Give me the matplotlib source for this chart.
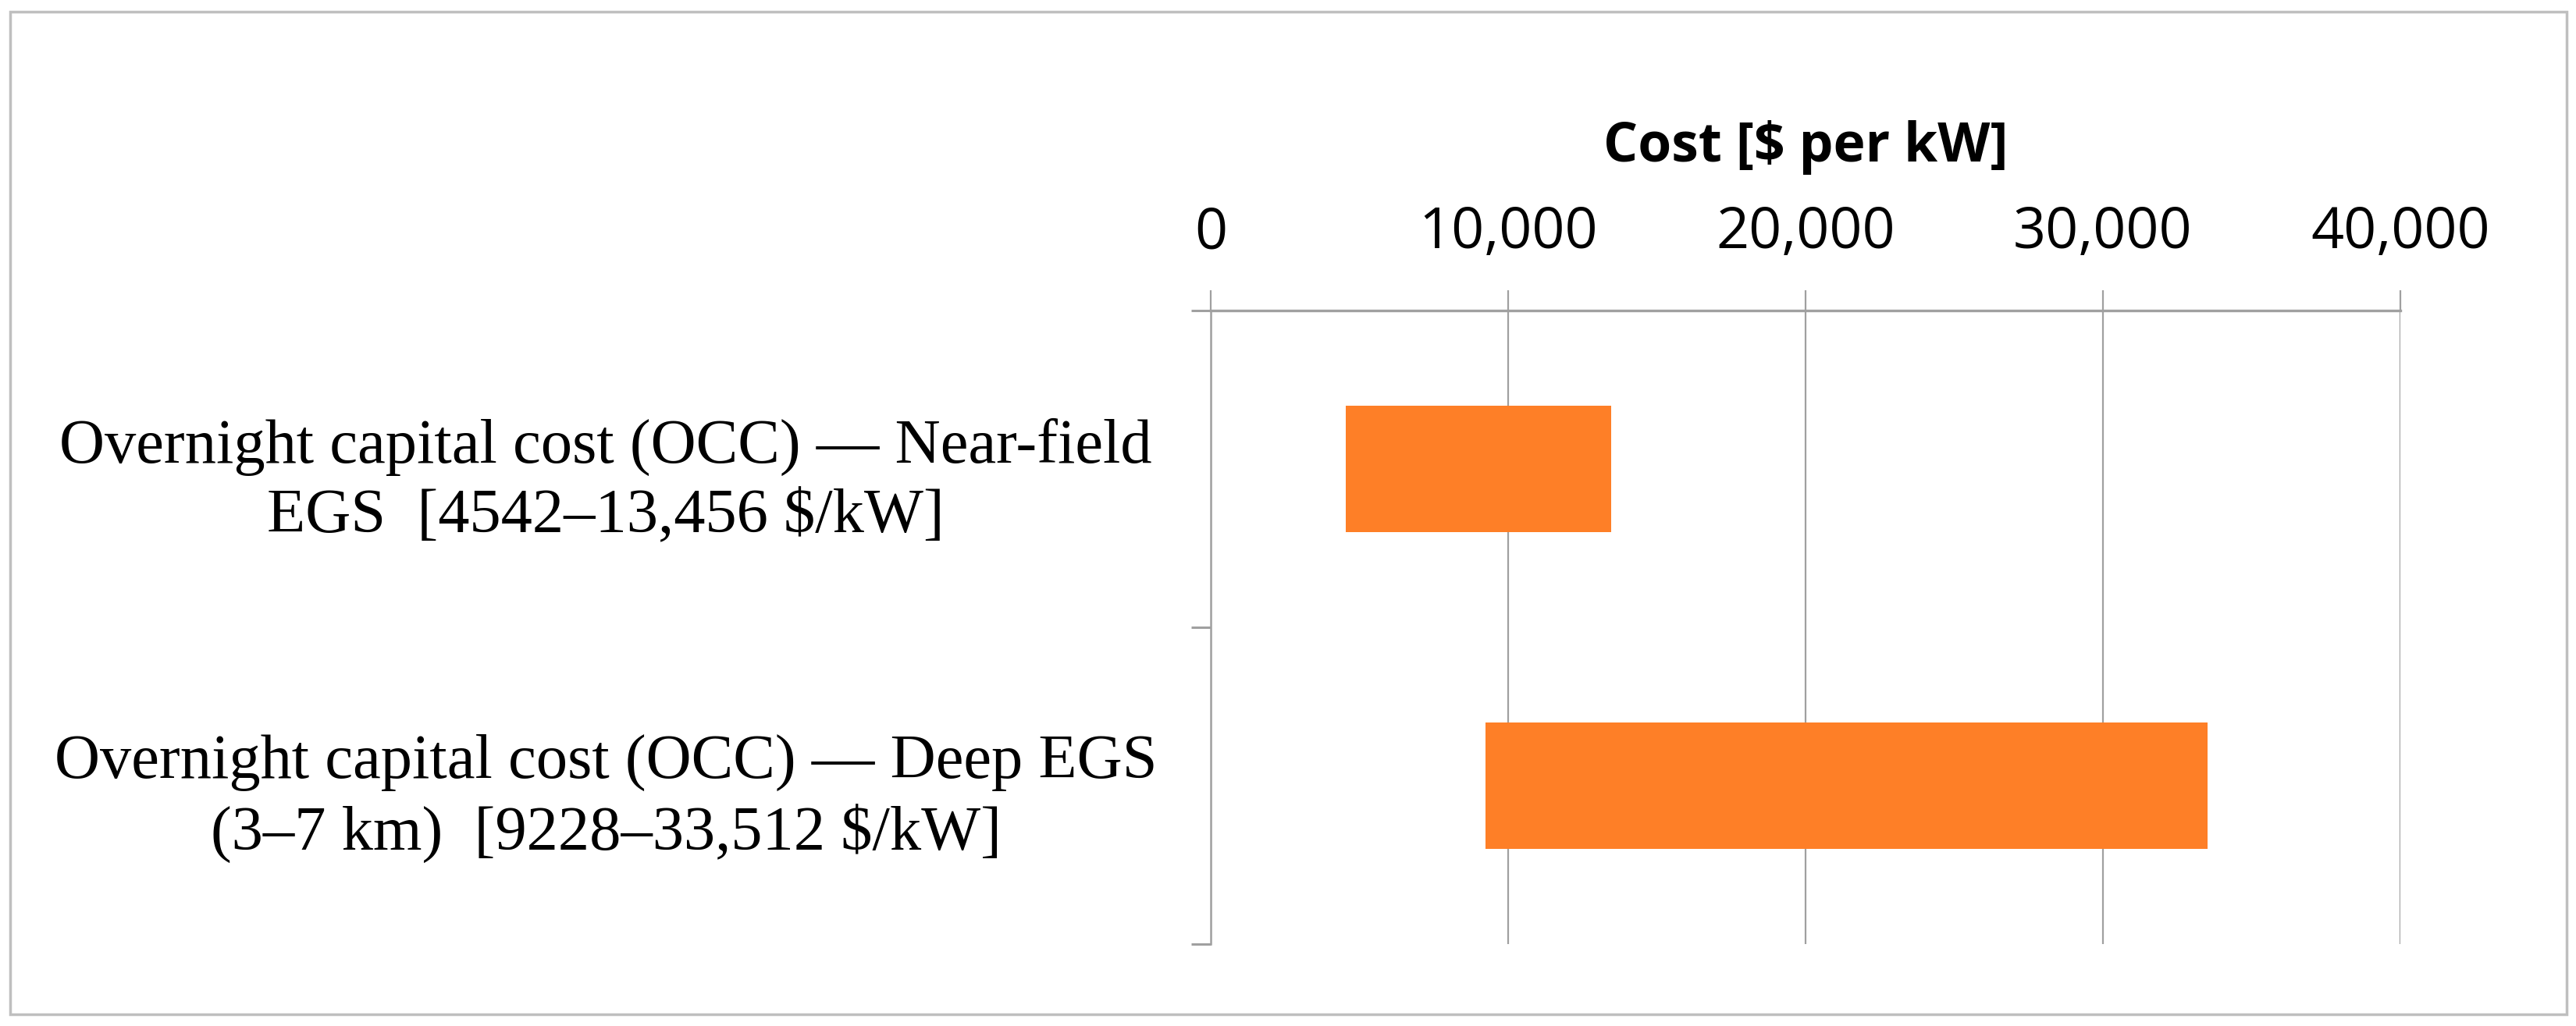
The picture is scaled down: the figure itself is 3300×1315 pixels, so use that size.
import matplotlib
matplotlib.use("Agg")
import matplotlib.pyplot as plt
from matplotlib.patches import Rectangle

categories = [
    "Overnight capital cost (OCC) — Near-field\nEGS  [4542–13,456 $/kW]",
    "Overnight capital cost (OCC) — Deep EGS\n(3–7 km)  [9228–33,512 $/kW]",
]
low_values = [4542, 9228]
high_values = [13456, 33512]
x_ticks = [0, 10000, 20000, 30000, 40000]
x_tick_labels = ["0", "10,000", "20,000", "30,000", "40,000"]
axis_title = "Cost [$ per kW]"

W, H, DPI = 3300, 1315, 100
fig = plt.figure(figsize=(W / DPI, H / DPI), dpi=DPI)
fig.patch.set_facecolor("white")

left, right = 1551 / W, 3075 / W
top, bottom = 1 - 398 / H, 1 - 1210 / H
ax = fig.add_axes([left, bottom, right - left, top - bottom])

grid_col = "#A0A0A0"
bar_col = "#FE7F27"

y = list(range(len(categories)))
widths = [h - l for l, h in zip(low_values, high_values)]
ax.barh(y, widths, left=low_values, height=0.4, color=bar_col, zorder=3)

ax.set_xlim(0, 40000)
ax.set_ylim(len(categories) - 0.5, -0.5)

# x axis on top
ax.xaxis.tick_top()
ax.set_xticks(x_ticks)
ax.set_xticklabels(x_tick_labels, fontfamily="Open Sans", fontsize=53)
ax.tick_params(axis="x", which="major", direction="out", length=18.5, width=1.6,
               color=grid_col, pad=26)
ax.xaxis.set_label_position("top")
ax.set_xlabel(axis_title, fontfamily="Open Sans", fontweight="bold", fontsize=50,
              labelpad=40)

for xv in x_ticks:
    ax.axvline(xv, color=grid_col, linewidth=1.6, zorder=1)

# y axis
ax.set_yticks(y)
ax.set_yticklabels(categories, fontfamily="Liberation Serif", fontsize=58,
                   ha="center", multialignment="center", linespacing=1.28)
ax.tick_params(axis="y", which="major", length=0, pad=558)
ax.set_yticks([-0.5, 0.5, 1.5], minor=True)
ax.tick_params(axis="y", which="minor", direction="out", length=18, width=2.2,
               color=grid_col)

for s in ["right", "bottom"]:
    ax.spines[s].set_visible(False)
ax.spines["top"].set_color(grid_col)
ax.spines["top"].set_linewidth(2.4)
ax.spines["left"].set_color(grid_col)
ax.spines["left"].set_linewidth(1.8)
ax.spines["left"].set_zorder(2)

# outer chart border
fig.patches.append(Rectangle((13 / W, 1 - 1300 / H), (3288 - 13) / W, (1300 - 15) / H,
                             transform=fig.transFigure, fill=False,
                             edgecolor="#BFBFBF", linewidth=2.5))

fig.savefig("out.png", dpi=DPI, facecolor="white")
